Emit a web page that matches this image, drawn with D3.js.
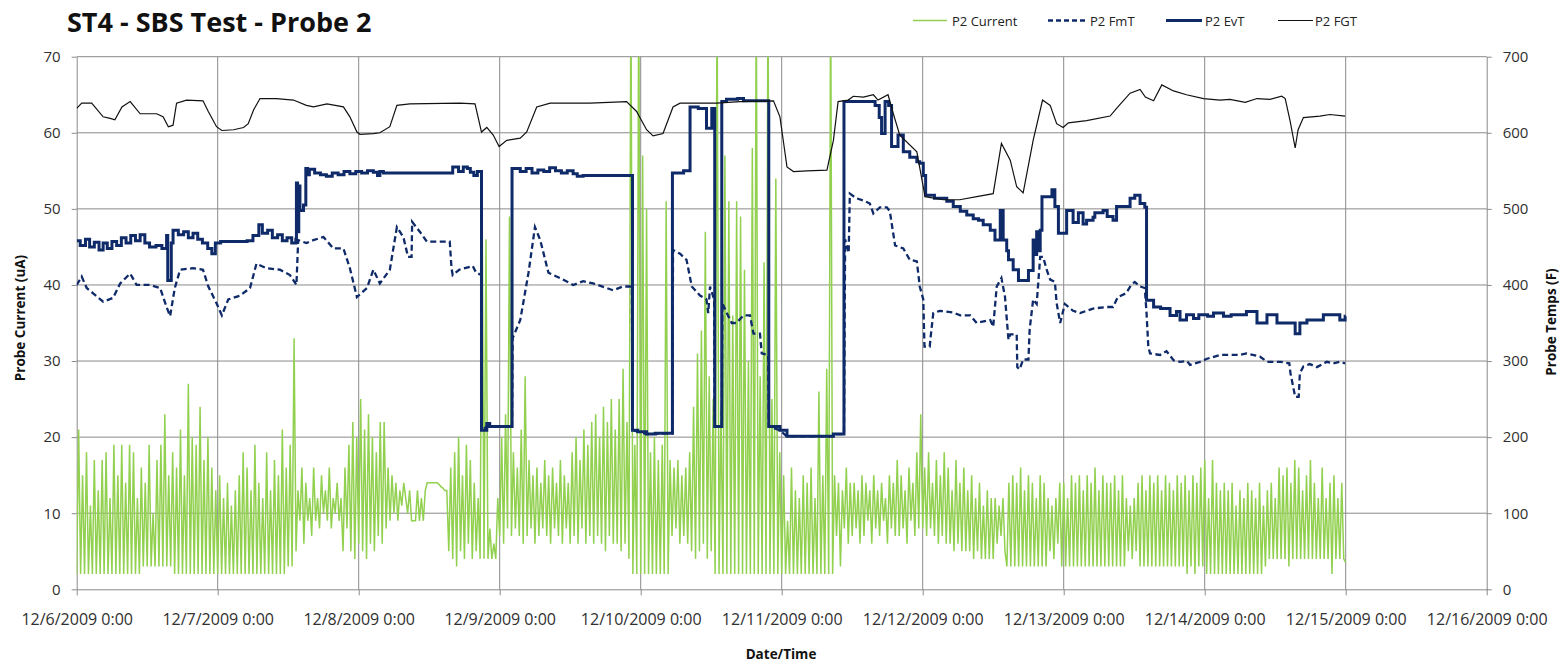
<!DOCTYPE html>
<html>
<head>
<meta charset="utf-8">
<script src="https://cdn.jsdelivr.net/npm/d3@7/dist/d3.min.js"></script>
<style>
  html, body { margin: 0; padding: 0; background: #ffffff; }
  svg { display: block; }
  text { font-family: "Open Sans", "Noto Sans", sans-serif; }
</style>
</head>
<body>
<svg id="chart" width="1568" height="665"></svg>
<script>
// ---------- data ----------
const chartTitle = "ST4 - SBS Test - Probe 2";
const seriesNames = ["P2 Current", "P2 FmT", "P2 EvT", "P2 FGT"];
const dateLabels = ["12/6/2009 0:00", "12/7/2009 0:00", "12/8/2009 0:00", "12/9/2009 0:00",
  "12/10/2009 0:00", "12/11/2009 0:00", "12/12/2009 0:00", "12/13/2009 0:00",
  "12/14/2009 0:00", "12/15/2009 0:00", "12/16/2009 0:00"];
const currentTicks = [0, 10, 20, 30, 40, 50, 60, 70];
const tempTicks = [0, 100, 200, 300, 400, 500, 600, 700];

// P2 Current (uA), one reading every 20 minutes from 12/6/2009 0:00
const currentStartHour = 0;
const currentStepHours = 1 / 3;
const p2Current = [
  2,21,2,15,2,18,2,11,2,17,2,13,
  2,17,2,18,2,12,2,19,2,15,2,19,
  2,14,2,19,2,18,2,12,2,16,3,14,
  3,19,3,10,3,17,3,19,3,23,3,15,
  3,18,2,16,2,21,2,15,2,27,2,20,
  2,19,2,24,2,17,2,20,2,16,2,13,
  2,15,2,12,2,14,2,11,2,13,2,15,
  2,18,2,16,2,13,2,19,2,14,2,12,
  2,18,2,13,2,17,2,15,2,21,2,16,
  3,19,3,33,5,13,9,16,6,14,9,12,
  7,16,9,12,8,15,10,13,9,16,8,12,
  10,14,9,12,5,16,8,19,5,22,4,20,
  6,25,5,21,4,23,6,20,5,18,7,22,
  6,22,8,16,9,15,10,14,9,13,11,14,
  12,10,13,9,9,9,13,9,12,9,13,14,
  14,14,14,14,14,13.8,13.5,13.3,13,13,5,16,
  4,18,3,20,5,15,4,19,6,17,4,14,
  5,12,4,53,4,46,4,8,4,6,4,12,
  7,20,6,23,8,49,7,18,8,16,7,21,
  6,28,7,17,8,15,6,16,7,14,8,17,
  7,15,6,16,8,14,7,17,6,15,8,14,
  6,18,7,20,6,17,8,21,6,19,7,22,
  6,23,7,20,6,24,5,22,7,25,6,21,
  6,25,5,29,6,22,4,80,2,19,2,80,
  2,57,2,50,2,18,2,20,2,17,2,19,
  2,51,2,17,7,16,8,17,6,15,7,16,
  6,18,5,24,4,31,5,34,6,47,4,28,
  5,25,2,80,2,24,2,57,2,51,2,36,
  2,51,2,49,2,42,2,30,2,58,2,80,
  2,28,2,43,2,80,2,25,2,54,2,18,
  2,15,2,9,2,16,2,13,2,12,2,15,
  2,14,2,16,2,12,2,26,2,15,2,29,
  2,80,2,15,7,14,3,13,8,16,6,14,
  7,14,8,13,6,15,7,14,9,13,6,15,
  8,13,7,14,9,12,6,15,8,14,7,17,
  7,15,8,13,6,16,9,14,7,18,8,23,
  8,16,7,18,8,14,7,17,6,15,7,18,
  6,16,6,13,5,17,6,14,5,16,5,13,
  5,15,4,12,5,14,4,11,4,13,4,12,
  4,12,6,11,7,12,5,3,14,3,15,3,
  14,3,16,3,13,3,15,3,14,3,12,3,
  15,3,14,3,12,5,11,4,12,6,14,3,
  14,3,12,3,15,3,14,3,15,3,13,3,
  15,3,14,3,16,3,13,3,15,3,14,3,
  14,3,15,3,13,3,15,3,12,5,11,4,
  12,5,14,3,15,3,13,3,15,3,14,3,
  15,3,13,3,15,3,14,3,13,3,15,3,
  14,3,15,2,13,3,15,2,14,3,16,3,
  17,2,12,2,17,2,14,2,13,2,14,2,
  13,2,14,2,11,2,13,2,12,2,14,2,
  13,2,12,2,14,2,11,3,13,4,14,4,
  12,4,16,4,15,4,16,3,14,4,17,4,
  16,4,13,4,15,4,17,4,14,4,12,4,
  16,4,12,4,14,2,15,4,12,4,14,4,
  3.5
];

// P2 FmT (F): [hours since 12/6/2009 0:00, temperature]
const p2FmT = [
  [0,400],[0.85,411],[1.7,396],[2.8,389],[4.5,378],[6.2,383],[7.4,402],[9.1,415],[10.2,400],
  [12.5,400],[14.2,396],[15.3,371],[15.9,359],[16.7,396],[17.6,420],[19.8,422],[21.5,420],
  [22.4,398],[23.8,376],[24.7,360],[25.8,381],[27.8,386],[29.5,396],[30.6,428],[32.3,422],
  [34.6,420],[36.3,413],[37.4,400],[37.7,459],[39.1,455],[40.3,459],[42,463],[43.7,448],
  [45.4,448],[46.5,422],[47.7,384],[49.4,396],[50.5,420],[51.6,402],[53.3,420],[54.5,476],
  [55.6,463],[56.4,437],[57,437],[57.1,483],[58.4,470],[59.6,457],[63.5,457],[63.8,422],
  [64,413],[65.1,420],[67.4,425],[68,416],[68.9,413],[68.95,209],[69.8,214],[74.1,214],[74.2,330],
  [75.5,354],[76,376],[76.9,416],[78,476],[78.9,459],[80.3,416],[82.3,409],[84.5,400],
  [86.2,405],[87.9,402],[90.2,396],[91.3,393],[93,398],[94.5,398],[94.6,209],[97,204],[101.4,205],
  [101.5,446],[102.7,441],[103.8,433],[104.7,398],[106.1,386],[107.2,381],[107.5,363],
  [107.8,398],[108.5,381],[108.6,214],[109.8,214],[109.9,376],[110.6,364],[111.5,350],
  [112.3,350],[113.5,360],[114.6,360],[115.2,336],[116.3,336],[116.6,310],[117.7,308],
  [117.8,214],[119.7,209],[120.9,201],[128.8,201],[128.9,204],[130.6,204],[130.8,460],[131.4,442],[131.6,520],[132.7,514],[133.9,511],
  [135,507],[135.6,494],[136.7,502],[137.9,502],[138.4,497],[139.3,452],[140.7,448],
  [141.8,433],[143,431],[143.5,398],[144.1,381],[144.3,319],[145.2,319],[145.3,328],
  [145.8,363],[146.9,366],[149.1,364],[150.4,360],[152.1,360],[153.2,350],[155.5,354],
  [156,345],[156.6,398],[157.4,409],[158,385],[158.6,328],[158.9,335],[160,335],[160.1,292],
  [160.5,289],[161.1,302],[162,302],[162.2,341],[162.8,381],[163.4,375],[164,437],[164.5,437],
  [165.1,420],[165.7,407],[166.5,404],[166.8,376],[167.4,350],[168.2,375],[169.6,366],
  [170.8,363],[173,369],[175.3,371],[176.4,371],[177.2,384],[178.6,389],[179.5,400],
  [180.1,404],[181,398],[181.8,396],[182.1,363],[182.4,319],[182.7,310],[184.4,308],
  [185.5,313],[186.7,301],[187.8,299],[189,300],[189.5,295],[191.2,299],[192.4,303],
  [194.6,308],[198,308],[199.1,310],[201.4,306],[202.6,299],[204.9,299],[206.4,297],
  [206.6,284],[207.4,253],[208,253],[208.2,284],[208.8,293],[209.9,296],[211.1,292],
  [212.8,299],[213.9,297],[215,299],[215.9,297]
];

// P2 EvT (F): [hours since 12/6/2009 0:00, temperature], held until the next reading
const p2EvT = [
  [0,458],[0.6,452],[1.5,460],[2.2,450],[3,456],[3.8,446],[4.5,455],[5.2,448],[6,457],
  [6.8,452],[7.6,462],[8.4,455],[9.2,465],[10,458],[10.8,466],[11.6,455],[12.4,450],
  [13.5,452],[14.5,448],[15.3,465],[15.5,406],[16.1,455],[16.4,472],[17.3,466],[18.2,470],
  [19,462],[19.8,468],[20.6,460],[21.4,455],[22.3,448],[23,441],[23.6,455],[24.5,457],
  [29,458],[30,465],[31,479],[31.6,468],[32.5,472],[33.3,462],[34.2,466],[35,458],
  [35.8,462],[36.6,455],[37.3,460],[37.4,534],[37.6,470],[37.8,530],[38,498],[38.6,505],
  [39,553],[39.3,545],[39.6,552],[40.5,547],[41.5,545],[42.5,543],[43.5,547],[44.5,545],
  [45.5,549],[46.5,546],[47.5,549],[48.5,547],[49.5,550],[50.5,548],[51.2,544],[51.6,549],
  [52.2,547],[64,555],[65,549],[65.8,555],[66.5,553],[67,548],[67.6,544],[68.2,549],
  [68.9,209],[69.8,218],[70.3,214],[74.1,553],[75.5,549],[76.5,553],[77.5,547],[78.5,551],
  [79.5,549],[80.5,554],[81.5,550],[82.5,547],[83.5,550],[84.5,546],[85.2,543],[86.2,544],
  [94.6,209],[95.5,207],[97,204],[98.5,205],[101.4,547],[103.3,550],[104.4,634],[105.8,632],
  [107.2,606],[108.1,632],[108.6,214],[109.8,641],[110.6,644],[112.5,645],[113.5,642],
  [117.8,214],[119.7,209],[120.9,201],[128.8,204],[130.6,641],[135.6,641],[135.9,636],
  [136.6,620],[137,599],[137.6,641],[138.2,636],[138.7,582],[139.8,597],[140.7,575],
  [141.8,568],[143,562],[143.5,560],[144.1,544],[144.5,518],[146,514],[148.1,510],
  [149.2,503],[150.4,497],[151.5,492],[152.6,487],[153.5,485],[154.3,479],[155.5,472],
  [156.3,459],[157.2,498],[157.7,459],[158.3,445],[158.6,433],[159.4,420],[160.3,406],
  [161.1,406],[162,419],[162.8,459],[163.1,440],[163.4,470],[163.7,445],[164,472],
  [164.3,516],[165.1,516],[166,525],[166.5,503],[167.1,468],[168.2,468],[168.5,498],
  [169.6,482],[170.5,495],[171.3,480],[171.9,485],[173,489],[173.3,495],[174.7,498],
  [175.4,490],[176.4,485],[177,503],[179.3,514],[180.1,518],[181,507],[181.8,502],
  [182.1,380],[183.3,371],[184.5,369],[186.1,360],[187.2,365],[187.8,354],[188.9,361],
  [190.1,356],[191,361],[192.5,359],[193.5,363],[195.2,359],[196.5,361],[199.1,365],
  [200.9,350],[202.6,361],[204.3,350],[205.5,350],[207.4,336],[208.2,350],[209.4,354],
  [211,354],[212.2,361],[215,354],[215.9,359],[216,359]
];

// P2 FGT (F): [hours since 12/6/2009 0:00, temperature]
const p2FGT = [
  [0,632],[0.85,639],[2.55,639],[4.5,621],[5.7,619],[6.5,617],[7.7,634],[9.1,641],[10.8,625],
  [13.6,625],[14.7,621],[15.6,608],[16.4,610],[17,639],[18.7,643],[21.5,642],[22.4,628],
  [23.8,608],[24.7,603],[26.7,604],[28.4,607],[29.2,612],[30.1,630],[31.2,645],[34,645],
  [36.9,643],[39.1,636],[40.3,634],[42.6,638],[45.4,634],[46.5,621],[47.7,601],[48.2,598],
  [50.5,599],[51.6,600],[53.3,608],[54.5,636],[56.7,638],[65.2,639],[67.8,638],[68.9,601],
  [69.8,607],[70.9,597],[71.9,582],[73.2,590],[75.5,593],[76.6,601],[78.3,634],[80.6,639],
  [87.4,639],[93.6,641],[95.3,628],[97,604],[98.1,596],[99.8,599],[101.5,634],[102.7,639],
  [108.9,639],[112.9,641],[118.6,642],[119.7,621],[120.9,555],[122,549],[124.3,550],
  [127.7,551],[128.8,590],[129.6,641],[131.3,643],[132.2,648],[133.9,647],[135.6,650],
  [136.4,643],[138.1,650],[139,625],[140.1,597],[143,575],[144.4,516],[147.5,512],
  [150.3,512],[153.2,516],[156,520],[157.4,586],[158.9,564],[160,529],[161.1,521],
  [162.8,590],[164.4,643],[165.7,636],[166.8,612],[167.9,607],[168.8,613],[171.9,616],
  [175.9,622],[177,632],[179.3,652],[181,657],[181.9,647],[183.3,642],[184.7,663],
  [186.7,655],[188.9,650],[191.8,645],[194.6,643],[196.3,644],[198.9,640],[200.9,645],
  [203.1,644],[205.1,648],[205.7,645],[206.5,617],[207.4,580],[207.9,604],[208.8,620],
  [211.6,622],[213.3,624],[215.9,622]
];

// ---------- layout ----------
const svg = d3.select("#chart");
const plot = { left: 76.7, right: 1486.7, top: 56.7, bottom: 589.3 };
const gridColor = "#8a8a8a";
const navy = "#0f2a69";
const green = "#92d050";
const labelColor = "#303030";

const x = d3.scaleLinear().domain([0, 240]).range([plot.left, plot.right]);
const yCur = d3.scaleLinear().domain([0, 70]).range([plot.bottom, plot.top]);
const yTemp = d3.scaleLinear().domain([0, 700]).range([plot.bottom, plot.top]);
const dayHours = dateLabels.map((d, i) => i * 24);

svg.append("defs").append("clipPath").attr("id", "plotClip")
  .append("rect")
  .attr("x", plot.left).attr("y", plot.top)
  .attr("width", plot.right - plot.left).attr("height", plot.bottom - plot.top);

// gridlines
const grid = svg.append("g").attr("stroke", gridColor).attr("stroke-width", 1);
grid.selectAll("line.h").data(currentTicks.filter(v => v > 0)).join("line")
  .attr("x1", plot.left).attr("x2", plot.right)
  .attr("y1", d => yCur(d)).attr("y2", d => yCur(d));
grid.selectAll("line.v").data(dayHours.filter(h => h > 0 && h < 240)).join("line")
  .attr("x1", d => x(d)).attr("x2", d => x(d))
  .attr("y1", plot.top).attr("y2", plot.bottom);

// axes
function styleAxis(g) {
  g.select(".domain").attr("stroke", gridColor).attr("stroke-width", 1);
  g.selectAll(".tick line").attr("stroke", gridColor).attr("stroke-width", 1);
  g.selectAll(".tick text").attr("fill", labelColor)
    .style("font-family", "'Open Sans', sans-serif");
}

svg.append("g")
  .attr("transform", `translate(${plot.left},0)`)
  .call(d3.axisLeft(yCur).tickValues(currentTicks).tickSize(5).tickSizeOuter(0).tickPadding(11))
  .call(styleAxis)
  .call(g => g.selectAll(".tick text").style("font-size", "15px"));

svg.append("g")
  .attr("transform", `translate(${plot.right},0)`)
  .call(d3.axisRight(yTemp).tickValues(tempTicks).tickSize(5).tickSizeOuter(0).tickPadding(11))
  .call(styleAxis)
  .call(g => g.selectAll(".tick text").style("font-size", "15px"));

svg.append("g")
  .attr("transform", `translate(0,${plot.bottom})`)
  .call(d3.axisBottom(x).tickValues(dayHours).tickSize(6).tickSizeOuter(0).tickPadding(18)
    .tickFormat((d, i) => dateLabels[i]))
  .call(styleAxis)
  .call(g => g.selectAll(".tick text").style("font-size", "16px"));

// series (current on the primary axis underneath, temperatures on top)
const series = svg.append("g").attr("clip-path", "url(#plotClip)");

const currentLine = d3.line()
  .x((d, i) => x(currentStartHour + i * currentStepHours))
  .y(d => yCur(d));
series.append("path").datum(p2Current)
  .attr("d", currentLine)
  .attr("fill", "none").attr("stroke", green).attr("stroke-width", 1.5)
  .attr("stroke-linejoin", "miter");

const tempLine = d3.line().x(d => x(d[0])).y(d => yTemp(d[1]));
const tempStep = d3.line().x(d => x(d[0])).y(d => yTemp(d[1])).curve(d3.curveStepAfter);

series.append("path").datum(p2FmT)
  .attr("d", tempLine)
  .attr("fill", "none").attr("stroke", navy).attr("stroke-width", 2.3)
  .attr("stroke-dasharray", "6,3.5");

series.append("path").datum(p2EvT)
  .attr("d", tempStep)
  .attr("fill", "none").attr("stroke", navy).attr("stroke-width", 3);

series.append("path").datum(p2FGT)
  .attr("d", tempLine)
  .attr("fill", "none").attr("stroke", "#111111").attr("stroke-width", 1.2);

// title
svg.append("text")
  .attr("x", 67).attr("y", 32)
  .style("font-size", "27px").style("font-weight", "700")
  .attr("fill", "#111")
  .text(chartTitle);

// legend
const legendItems = [
  { name: seriesNames[0], x0: 913, x1: 947, tx: 952, stroke: green, width: 1.3, dash: null },
  { name: seriesNames[1], x0: 1048, x1: 1087, tx: 1090, stroke: navy, width: 2.3, dash: "5,3" },
  { name: seriesNames[2], x0: 1166, x1: 1202, tx: 1205, stroke: navy, width: 3, dash: null },
  { name: seriesNames[3], x0: 1278, x1: 1313, tx: 1315, stroke: "#111111", width: 1.2, dash: null }
];
const legend = svg.append("g");
legendItems.forEach(it => {
  legend.append("line")
    .attr("x1", it.x0).attr("x2", it.x1).attr("y1", 20.5).attr("y2", 20.5)
    .attr("stroke", it.stroke).attr("stroke-width", it.width)
    .attr("stroke-dasharray", it.dash);
  legend.append("text")
    .attr("x", it.tx).attr("y", 25.5)
    .style("font-size", "13px").attr("fill", "#222")
    .text(it.name);
});

// axis titles
svg.append("text")
  .attr("transform", "translate(20,318) rotate(-90)")
  .attr("text-anchor", "middle").attr("dominant-baseline", "central")
  .style("font-size", "13.5px").style("font-weight", "700").attr("fill", "#111")
  .text("Probe Current (uA)");
svg.append("text")
  .attr("transform", "translate(1551,322) rotate(-90)")
  .attr("text-anchor", "middle").attr("dominant-baseline", "central")
  .style("font-size", "13.5px").style("font-weight", "700").attr("fill", "#111")
  .text("Probe Temps (F)");
svg.append("text")
  .attr("x", 781).attr("y", 659)
  .attr("text-anchor", "middle")
  .style("font-size", "13.5px").style("font-weight", "700").attr("fill", "#111")
  .text("Date/Time");
</script>
</body>
</html>
